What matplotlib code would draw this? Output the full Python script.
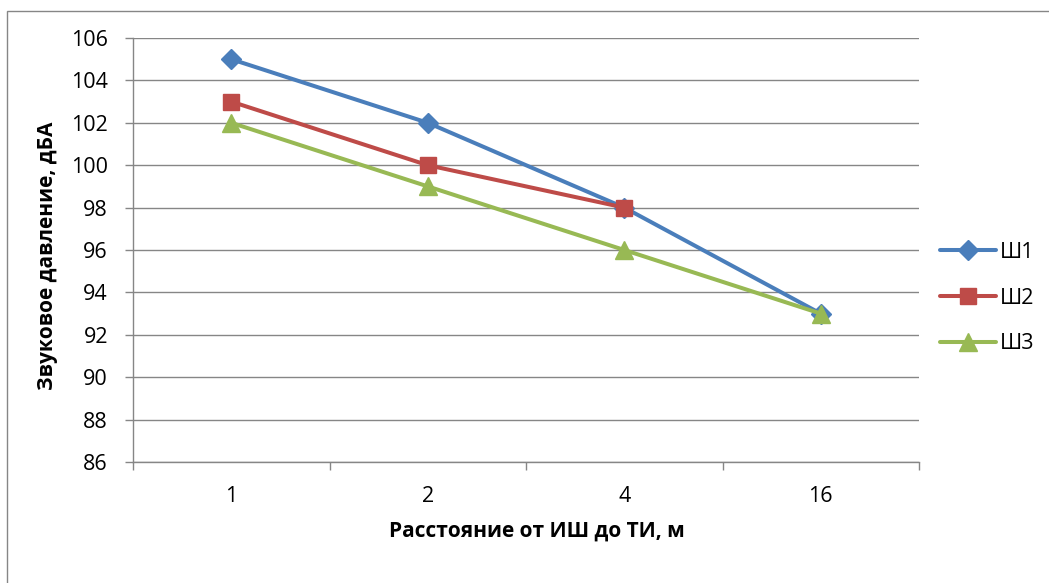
import matplotlib
matplotlib.use("Agg")
import matplotlib.pyplot as plt
import numpy as np
from matplotlib.patches import Rectangle

# ── Data ──────────────────────────────────────────────────────────────────────
categories = ["1", "2", "4", "16"]
sh1 = [105, 102, 98, 93]
sh2 = [103, 100, 98, np.nan]
sh3 = [102, 99, 96, 93]
series_names = ["Ш1", "Ш2", "Ш3"]
y_ticks = [86, 88, 90, 92, 94, 96, 98, 100, 102, 104, 106]

plt.rcParams["font.family"] = ["Open Sans", "DejaVu Sans"]

GRID = "#868686"
COLORS = ["#4A7EBB", "#BE4B48", "#98B954"]
MARKERS = [("D", 10.5), ("s", 12), ("^", 13)]
FS = 15.5

fig = plt.figure(figsize=(10.49, 5.83), dpi=100)
fig.patches.append(Rectangle((7 / 1049, -0.1), 1.2, 1 - 11 / 583 + 0.1,
                             transform=fig.transFigure, fill=False,
                             edgecolor=GRID, linewidth=1.0, zorder=0))

ax = fig.add_axes([133 / 1049, 1 - 462 / 583, 786 / 1049, 424 / 583])
x = np.arange(len(categories))

for vals, name, color, (mk, ms) in zip([sh1, sh2, sh3], series_names, COLORS, MARKERS):
    ax.plot(x, vals, color=color, linewidth=2.9, marker=mk, markersize=ms,
            markerfacecolor=color, markeredgecolor=color, label=name,
            solid_capstyle="round", zorder=3)

ax.set_xlim(-0.5, len(categories) - 0.5)
ax.set_ylim(86, 106)
ax.set_yticks(y_ticks)
ax.set_yticklabels([str(v) for v in y_ticks], fontsize=FS)
ax.set_xticks(x)
ax.set_xticklabels(categories, fontsize=FS)
ax.set_xticks(np.arange(-0.5, len(categories)), minor=True)
ax.tick_params(axis="x", which="major", length=0, pad=17)
ax.tick_params(axis="x", which="minor", length=6, width=1, color=GRID, direction="out")
ax.tick_params(axis="y", length=6, width=1, color=GRID, direction="out", pad=12)

ax.grid(axis="y", color=GRID, linewidth=1.0)
ax.set_axisbelow(True)
for side in ["top", "right"]:
    ax.spines[side].set_visible(False)
for side in ["left", "bottom"]:
    ax.spines[side].set_color(GRID)
    ax.spines[side].set_linewidth(1.0)

ax.set_xlabel("Расстояние от ИШ до ТИ, м", fontsize=15, fontweight="bold", labelpad=10)
ax.set_ylabel("Звуковое давление, дБА", fontsize=15, fontweight="bold", labelpad=9)
ax.xaxis.label.set_x(0.514)
ax.yaxis.label.set_y(0.486)

ax.legend(loc="center left", bbox_to_anchor=(940 / 1049, 1 - 298 / 583),
          bbox_transform=fig.transFigure, frameon=False, fontsize=FS,
          handlelength=2.6, handletextpad=0.2, labelspacing=1.15,
          borderpad=0, borderaxespad=0)

fig.savefig("out.png", dpi=100)
